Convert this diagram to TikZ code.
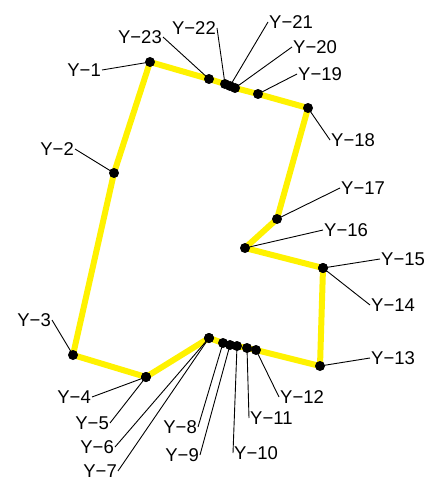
\documentclass[tikz,border=0pt]{standalone}
\usepackage{fontspec}
\setmainfont{Liberation Sans}
\begin{document}
\begin{tikzpicture}[x=1pt,y=-1pt,
  every node/.style={font=\fontsize{18.5}{22}\selectfont,inner sep=1pt},
  outline/.style={yellow,line width=6pt,line join=round},
  leader/.style={black,line width=0.9pt}]
  \useasboundingbox (0,0) rectangle (429,481);
  % survey points
  \foreach \n/\x/\y in {1/150/62,2/114/173,3/73/355,4/146/377,5/146/377,
      6/209/338,7/209/338,8/223/343,9/230/345,10/237/346,11/247/348,
      12/256/350,13/320/366,14/323/268,15/323/268,16/245/248,17/277/219,
      18/308/108,19/258/94,20/235/88,21/230/86,22/225/84,23/209/79}
    \coordinate (p\n) at (\x,\y);
  \draw[outline] (p1) -- (p2) -- (p3) -- (p4) -- (p6) -- (p8) -- (p9)
    -- (p10) -- (p11) -- (p12) -- (p13) -- (p14) -- (p16) -- (p17)
    -- (p18) -- (p19) -- (p20) -- (p21) -- (p22) -- (p23) -- cycle;
  % labels with leaders
  \foreach \n/\a/\x/\y in {1/east/102/70,2/east/75/149,3/east/52/320,
      4/east/92/397,5/east/110/423,6/east/115/447,7/east/118/471,
      8/east/198/427,9/east/200/455,10/west/233/453,11/west/249/418,
      12/west/279/397,13/west/370/358,14/west/370/305,15/west/380/259,
      16/west/323/230,17/west/340/188,18/west/330/140,19/west/297/74,
      20/west/292/47,21/west/268/22,22/east/217/28,23/east/163/37}
  {
    \node[anchor=\a] (l\n) at (\x,\y) {Y−\n};
    \draw[leader] (l\n.\a) -- (p\n);
  }
  \foreach \n in {1,...,23}
    \fill (p\n) circle (5pt);
\end{tikzpicture}
\end{document}
